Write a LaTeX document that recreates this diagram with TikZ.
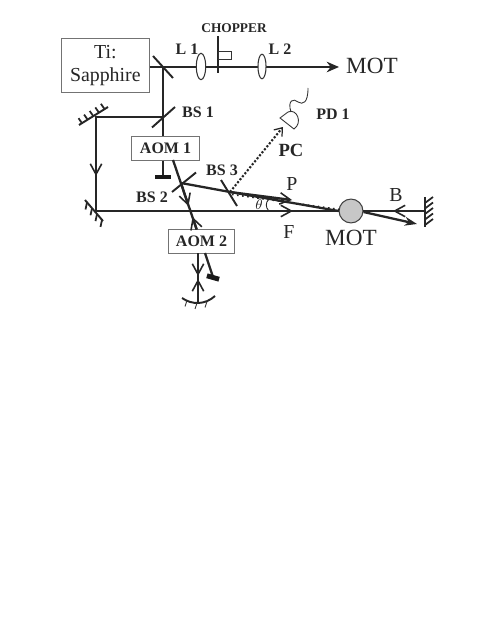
\documentclass[tikz,border=0pt]{standalone}
\usepackage{fontspec}
\setmainfont{Liberation Serif}
\usetikzlibrary{arrows.meta,shapes.geometric}
\tikzset{
  beam/.style={line width=1.3pt,draw=black!85},
  optic/.style={line width=1.1pt,draw=black!85},
  boxthin/.style={draw=black!55,line width=0.5pt,fill=white,inner sep=0pt},
  openhead/.style={-{Straight Barb[length=6pt,width=6.5pt,line width=0.9pt]}},
  bigtext/.style={font=\fontsize{11.3}{12.5}\selectfont,text=black!85,inner sep=0pt},
  smalltext/.style={font=\fontsize{9.1}{10}\selectfont\bfseries,text=black!85,inner sep=0pt},
}
\begin{document}
\begin{tikzpicture}[x=0.02cm,y=-0.02cm]
        \useasboundingbox (0,0) rectangle (485,634);
        % laser y rama superior
        \node[boxthin,bigtext,align=center,minimum width=50.2pt,minimum height=31.2pt] (ti) at (105.3,65.5) {Ti:\\[1pt]Sapphire};
        \coordinate (m1) at (163,67);
        \coordinate (m1a) at (153,56);
        \coordinate (m1b) at (173,78);
        \coordinate (motout) at (339,67);
        \draw[beam,-{Stealth[length=7pt,width=6pt]}] (ti.east |- m1) -- (motout);
        \draw[optic] (m1a) -- (m1b);
        \node[draw=black!80,fill=white,line width=0.6pt,ellipse,inner sep=0pt,minimum width=5.4pt,minimum height=15pt] (l1) at (201,66.5) {};
        \node[draw=black!80,fill=white,line width=0.6pt,ellipse,inner sep=0pt,minimum width=4.6pt,minimum height=14pt] (l2) at (262,66.5) {};
        \coordinate (chtop) at (218,36);
        \coordinate (chbot) at (218,73);
        \draw[line width=0.6pt,draw=black!85] (chtop) -- (chbot);
        \draw[line width=0.5pt,draw=black!80] (218,51) rectangle (231,59.5);
        \node[font=\fontsize{7.6}{8}\selectfont\bfseries,text=black!85,inner sep=0pt] (chopper) at (234,28) {CHOPPER};
        \node[smalltext] (l1txt) at (187,49) {L 1};
        \node[smalltext] (l2txt) at (280,49) {L 2};
        \node[font=\fontsize{13.2}{14}\selectfont,text=black!85,inner sep=0pt] (mot1) at (372,66) {MOT};
        % rama AOM 1
        \node[boxthin,smalltext,minimum width=38.6pt,minimum height=13.4pt] (aom1) at (165.5,148.3) {AOM 1};
        \coordinate (bs1) at (163,117);
        \coordinate (m2) at (96,117);
        \coordinate (m3) at (96,211);
        \coordinate (v1) at (96,176);
        \draw[beam] (m1) -- (m1 |- aom1.north);
        \draw[optic] (152,127.5) -- (175,107);
        \node[smalltext] (bs1txt) at (198,112) {BS 1};
        \draw[beam] (bs1) -- (m2) -- (m3);
        \draw[beam,openhead] (m2) -- (v1);
        \draw[optic] (79,125) -- (108,107);
        \foreach \i in {0,1,2,3,4} {
          \draw[line width=1pt,draw=black!85] (82+5.6*\i,123.2-3.6*\i) -- ++(-3.5,-5);
        }
        % espejo abajo izquierda
        \draw[optic] (85,200) -- (103,221);
        \foreach \i in {0,1,2,3} {
          \draw[line width=1pt,draw=black!85] (87+5*\i,202.5+5.8*\i) -- ++(-1.5,7);
        }
        % bloqueo AOM 1
        \coordinate (stop1) at (163,176);
        \draw[beam] (stop1 |- aom1.south) -- (stop1);
        \node[fill=black!90,inner sep=0pt,minimum width=9pt,minimum height=2.8pt] (block1) at (163,177) {};
        % BS 2 y BS 3
        \coordinate (bs2) at (181,183);
        \coordinate (aomin) at (173,160);
        \coordinate (bs3) at (230,192);
        \coordinate (down) at (188.5,206);
        \coordinate (up) at (192.5,217);
        \node[boxthin,smalltext,minimum width=38pt,minimum height=13.4pt] (aom2) at (201.5,241.2) {AOM 2};
        \coordinate (aomtop) at (196.7,229.5);
        \draw[beam] (aomin) -- (aomtop);
        \draw[beam,openhead] (bs2) -- (down);
        \draw[beam,openhead] (aomtop) -- (up);
        \draw[optic] (172,192) -- (196,172.5);
        \draw[optic] (221,180) -- (237,206);
        \node[smalltext] (bs2txt) at (152,197.5) {BS 2};
        \node[smalltext] (bs3txt) at (222,170.5) {BS 3};
        % haces hacia MOT
        \node[circle,draw=black!75,fill=black!22,line width=0.6pt,inner sep=0pt,minimum size=13.6pt] (mot) at (351,211) {};
        \coordinate (m4) at (425,211);
        \coordinate (pt) at (292,200);
        \coordinate (ft) at (293,211);
        \coordinate (bt) at (393,211);
        \draw[beam] (m3) -- (mot.west);
        \draw[beam] (mot.east) -- (m4);
        \draw[beam,openhead] (m3) -- (ft);
        \draw[beam,openhead] (m4) -- (bt);
        \draw[beam] (bs2) -- (bs3) -- (mot.west);
        \draw[beam,openhead] (bs3) -- (pt);
        \draw[line width=0.9pt,dotted,draw=black!85] (232,194.5) -- (340,209.5);
        \draw[line width=1.3pt,draw=black!85,-{Stealth[length=7pt,width=5pt]}] (mot.east) ++(0,1) -- (417,224);
        \draw[optic] (425,197) -- (425,227);
        \foreach \i in {0,1,2,3,4} {
          \draw[line width=1pt,draw=black!85] (425,203+5.5*\i) -- ++(8,-6);
        }
        \coordinate (tha) at (268.5,199.5);
        \coordinate (thb) at (268.5,210.5);
        \draw[line width=0.5pt,draw=black!85] (tha) .. controls (265.5,203) and (265.5,207) .. (thb);
        \node[font=\fontsize{8}{9}\selectfont\itshape,text=black!85,inner sep=0pt] (theta) at (259,205) {$\theta$};
        \node[bigtext] (ptxt) at (292,184) {P};
        \node[bigtext] (ftxt) at (289,232) {F};
        \node[bigtext] (btxt) at (396,195) {B};
        \node[font=\fontsize{13.2}{14}\selectfont,text=black!85,inner sep=0pt] (mot2) at (351,238) {MOT};
        % PC y detector
        \coordinate (pd) at (283,127);
        \draw[line width=1.2pt,densely dotted,draw=black!85,-{Straight Barb[length=4pt,width=6pt,line width=0.7pt]}] (bs3) -- (pd);
        \draw[line width=0.5pt,draw=black!80,fill=white] (280,118) -- (294,129) .. controls (303,123) and (297,108) .. (288,112) -- cycle;
        \draw[line width=0.5pt,draw=black!80] (291,112) .. controls (287,100) and (294,98) .. (298,102) .. controls (303,105) and (308,103) .. (308,88);
        \node[smalltext] (pd1txt) at (333,114) {PD 1};
        \node[font=\fontsize{10.6}{11}\selectfont\bfseries,text=black!85,inner sep=0pt] (pctxt) at (291,150) {PC};
        % rama AOM 2
        \coordinate (cm) at (198,303);
        \coordinate (d1) at (198,276);
        \coordinate (d2) at (198,279);
        \draw[beam] (cm |- aom2.south) -- (cm);
        \draw[beam,openhead] (cm |- aom2.south) -- (d1);
        \draw[beam,openhead] (cm) -- (d2);
        \coordinate (stop2) at (213,277);
        \draw[beam] (205,253) -- (stop2);
        \node[fill=black!90,inner sep=0pt,minimum width=7.2pt,minimum height=2.8pt,rotate=-16] (block2) at (213,277.5) {};
        \draw[line width=1.1pt,draw=black!85] (182,298) .. controls (192,305) and (205,305) .. (215,296);
        \foreach \x/\y in {187/300.5,197/303,207/301.5} {
          \draw[line width=0.5pt,draw=black!80] (\x,\y) -- ++(-2,6);
        }
\end{tikzpicture}
\end{document}
